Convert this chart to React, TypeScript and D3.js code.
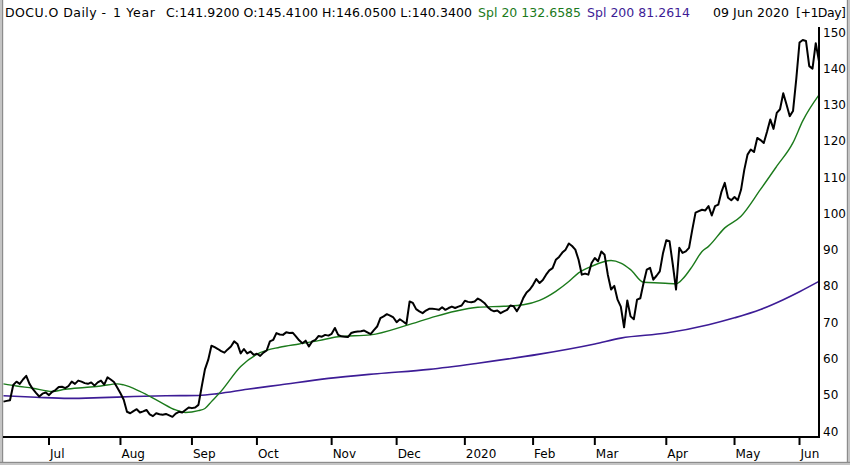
import React from "react";
import * as d3 from "d3";

// Daily closes, 11 Jun 2019 .. 09 Jun 2020 (252 trading days)
const PRICE: number[] = [
  48.1, 48.3, 48.5, 52.7, 53.6, 53.0, 54.2, 55.2, 53.0, 51.6,
  50.5, 49.5, 50.3, 50.6, 49.9, 50.8, 51.3, 52.1, 52.2, 51.8,
  52.4, 53.6, 53.0, 53.9, 53.6, 53.2, 53.0, 53.4, 52.5, 53.4,
  53.9, 52.8, 54.8, 54.2, 53.5, 52.0, 50.4, 48.6, 45.3, 44.9,
  45.5, 46.0, 45.1, 45.4, 45.8, 44.6, 44.1, 44.9, 44.6, 44.5,
  44.7, 44.3, 43.9, 44.8, 45.3, 45.1, 45.8, 46.5, 46.3, 46.5,
  47.2, 52.2, 57.0, 59.6, 63.5, 63.1, 62.6, 62.0, 61.6, 62.5,
  63.3, 64.7, 64.0, 61.4, 62.6, 61.4, 61.9, 61.0, 61.3, 60.7,
  61.6, 62.2, 64.7, 65.1, 67.0, 66.6, 66.5, 67.2, 67.0, 67.1,
  66.1, 65.0, 64.2, 64.9, 63.3, 64.7, 65.1, 66.2, 66.0, 66.5,
  66.3, 66.8, 68.4, 66.5, 66.1, 66.0, 65.9, 67.0, 67.3, 67.4,
  67.5, 67.7, 67.2, 66.7, 67.8, 68.8, 71.1, 71.6, 72.2, 71.8,
  71.3, 70.0, 70.8, 70.2, 69.5, 75.7, 75.3, 73.6, 73.0, 72.5,
  73.2, 73.7, 73.7, 73.6, 73.4, 74.1, 73.4, 73.9, 74.3, 73.9,
  74.3, 74.6, 75.9, 75.6, 75.5, 75.7, 76.5, 76.0, 75.3, 74.2,
  73.4, 73.0, 73.2, 72.5, 73.0, 73.4, 74.6, 74.4, 73.0, 74.5,
  76.7, 78.2, 79.0, 80.3, 81.9, 80.8, 81.6, 83.1, 84.3, 84.9,
  87.2, 88.0, 89.2, 90.0, 91.7, 91.0, 90.0, 87.2, 83.1, 83.4,
  83.1, 86.3, 87.7, 86.8, 89.5, 88.6, 83.1, 79.0, 80.0, 76.2,
  74.3, 68.6, 76.0, 71.6, 70.8, 76.2, 76.6, 80.8, 84.5, 85.0,
  81.7, 82.8, 84.0, 89.1, 92.6, 92.3, 85.9, 79.0, 90.5, 89.1,
  89.5, 90.5, 95.5, 100.2, 100.6, 101.0, 100.8, 102.0, 99.4, 102.0,
  102.4, 106.0, 108.4, 104.3, 103.6, 104.5, 103.6, 106.5, 112.0, 116.2,
  117.6, 116.9, 120.8, 120.2, 119.4, 122.5, 125.9, 123.3, 127.7, 128.7,
  133.1, 130.0, 126.8, 128.2, 137.0, 147.1, 147.8, 147.5, 140.6, 139.9,
  146.9, 141.92,
];

// 20-day moving average, read at these trading-day indices
const SMA20_IDX: number[] = [0, 4, 9, 15, 19, 25, 30, 35, 37, 42, 48, 53, 56, 60, 62, 64, 67, 73, 79, 85, 91, 97, 103, 113, 124, 133, 139, 146, 154, 160, 165, 170, 174, 177, 181, 187, 190, 193, 197, 202, 207, 209, 212, 215, 217, 222, 227, 233, 238, 243, 246, 251];
const SMA20_VAL: number[] = [53.0, 52.4, 51.8, 50.9, 51.5, 52.0, 52.4, 53.0, 52.7, 50.9, 48.1, 45.8, 45.1, 45.6, 46.2, 48.1, 51.0, 57.8, 61.6, 63.1, 64.0, 64.9, 66.0, 66.5, 69.1, 71.6, 73.0, 74.1, 74.4, 74.8, 76.0, 78.5, 81.2, 83.6, 85.4, 87.0, 86.3, 84.5, 81.0, 80.8, 80.6, 81.9, 85.4, 89.5, 90.9, 96.0, 99.2, 106.6, 113.0, 119.5, 125.5, 132.66];

// 200-day moving average
const SMA200_IDX: number[] = [0, 10, 20, 30, 40, 50, 60, 66, 75, 85, 100, 115, 131, 146, 165, 182, 190, 204, 217, 225, 233, 240, 245, 251];
const SMA200_VAL: number[] = [49.7, 49.3, 49.0, 49.2, 49.5, 49.7, 49.8, 50.3, 51.5, 52.7, 54.5, 55.8, 57.0, 58.7, 61.2, 64.0, 65.6, 67.0, 69.3, 71.2, 73.5, 76.2, 78.4, 81.26];

const Y_TICKS: number[] = [40, 50, 60, 70, 80, 90, 100, 110, 120, 130, 140, 150];
const HOLIDAYS: string[] = ["2019-07-04", "2019-09-02", "2019-11-28", "2019-12-25", "2020-01-01", "2020-01-20", "2020-02-17", "2020-04-10", "2020-05-25"];
const START = new Date(2019, 5, 11);
const END = new Date(2020, 5, 10);

const GREEN = "#1b7a1b";
const PURPLE = "#3d1c96";
const FONT = "'DejaVu Sans', 'Lucida Grande', sans-serif";

export default function App() {
  const W = 850, H = 465;
  const fmt = d3.timeFormat("%Y-%m-%d");
  const dates = d3.timeDay
    .range(START, END)
    .filter((d) => d.getDay() !== 0 && d.getDay() !== 6 && !HOLIDAYS.includes(fmt(d)));

  const xLeft = 3.5, xRight = 819, axisY = 437;
  const x = d3.scaleLinear().domain([0, dates.length - 1]).range([xLeft, xRight]);
  const y = d3.scaleLinear().domain([40, 150]).range([431, 32]);

  const priceLine = d3
    .line<number>()
    .x((_, i) => x(i))
    .y((d) => y(d));
  const smooth = d3
    .line<[number, number]>()
    .x((d) => x(d[0]))
    .y((d) => y(d[1]))
    .curve(d3.curveMonotoneX);

  const sma20 = SMA20_IDX.map((i, k) => [i, SMA20_VAL[k]] as [number, number]);
  const sma200 = SMA200_IDX.map((i, k) => [i, SMA200_VAL[k]] as [number, number]);

  // first trading day of each month (except the partial first month)
  const monthTicks: { i: number; label: string }[] = [];
  dates.forEach((d, i) => {
    if (i > 0 && d.getMonth() !== dates[i - 1].getMonth()) {
      monthTicks.push({ i, label: d.getMonth() === 0 ? d3.timeFormat("%Y")(d) : d3.timeFormat("%b")(d) });
    }
  });

  return (
    <svg
      width={W}
      height={H}
      style={{ position: "fixed", left: 0, top: 0, background: "#fff" }}
      fontFamily={FONT}
    >
      <rect x={0} y={0} width={W} height={H} fill="#fff" />
      {/* frame */}
      <rect x={0} y={0} width={2} height={H} fill="#c4c4c4" />
      <rect x={2} y={0} width={1.2} height={H} fill="#8c8c8c" />
      <rect x={W - 3} y={0} width={3} height={H} fill="#c4c4c4" />
      <rect x={W - 3.2} y={0} width={1.2} height={H} fill="#8c8c8c" />
      <rect x={0} y={H - 3} width={W} height={3} fill="#c4c4c4" />
      <rect x={0} y={H - 3.2} width={W} height={1.2} fill="#8c8c8c" />

      {/* header */}
      <g fontSize={12.5} fill="#000">
        <text x={5} y={16.5} textLength={101} lengthAdjust="spacing">DOCU.O Daily -</text>
        <text x={113} y={16.5} textLength={42} lengthAdjust="spacing">1 Year</text>
        <text x={166} y={16.5} textLength={306} lengthAdjust="spacing">C:141.9200 O:145.4100 H:146.0500 L:140.3400</text>
        <text x={478} y={16.5} fill={GREEN} textLength={103} lengthAdjust="spacing">Spl 20 132.6585</text>
        <text x={587} y={16.5} fill={PURPLE} textLength={103} lengthAdjust="spacing">Spl 200 81.2614</text>
        <text x={713} y={16.5} textLength={76} lengthAdjust="spacing">09 Jun 2020</text>
        <text x={796} y={16.5} textLength={50} lengthAdjust="spacing">[+1Day]</text>
      </g>

      {/* series */}
      <path d={smooth(sma200) ?? ""} fill="none" stroke={PURPLE} strokeWidth={1.6} />
      <path d={smooth(sma20) ?? ""} fill="none" stroke={GREEN} strokeWidth={1.4} />
      <path d={priceLine(PRICE) ?? ""} fill="none" stroke="#000" strokeWidth={2} strokeLinejoin="round" />

      {/* axes */}
      <line x1={xRight} x2={xRight} y1={27} y2={axisY + 1} stroke="#000" strokeWidth={2} />
      <line x1={3} x2={xRight + 1} y1={axisY} y2={axisY} stroke="#000" strokeWidth={2} />
      {Y_TICKS.map((t) => (
        <text key={t} x={823} y={y(t) + 4.5} fontSize={12} fill="#000">
          {t}
        </text>
      ))}
      {monthTicks.map((m) => (
        <g key={m.i}>
          <line x1={x(m.i)} x2={x(m.i)} y1={axisY} y2={axisY + 8} stroke="#000" strokeWidth={2} />
          <text x={x(m.i) + 1} y={458} fontSize={12} fill="#000">
            {m.label}
          </text>
        </g>
      ))}
    </svg>
  );
}
